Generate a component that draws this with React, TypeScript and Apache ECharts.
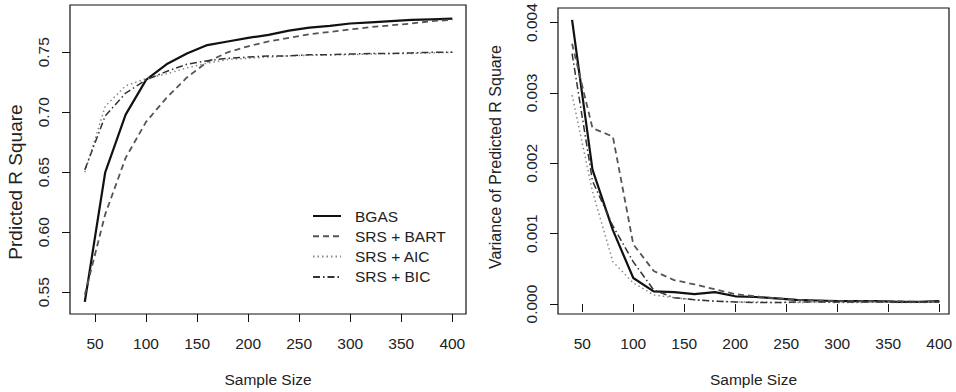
import React, { useEffect, useRef } from "react";
import * as echarts from "echarts";

// ---- data ----
const sampleSizes = [40, 60, 80, 100, 120, 140, 160, 180, 200, 220, 240, 260, 280, 300, 320, 340, 360, 380, 400];
const seriesNames = ["BGAS", "SRS + BART", "SRS + AIC", "SRS + BIC"];

const r2BGAS = [0.542, 0.650, 0.698, 0.727, 0.740, 0.749, 0.756, 0.759, 0.762, 0.7645, 0.768, 0.7705, 0.772, 0.774, 0.775, 0.776, 0.777, 0.7775, 0.778];
const r2BART = [0.548, 0.615, 0.662, 0.692, 0.712, 0.729, 0.742, 0.750, 0.755, 0.759, 0.762, 0.765, 0.767, 0.769, 0.771, 0.7725, 0.774, 0.776, 0.777];
const r2AIC = [0.650, 0.705, 0.722, 0.728, 0.732, 0.737, 0.741, 0.744, 0.745, 0.746, 0.747, 0.7475, 0.748, 0.748, 0.7485, 0.749, 0.749, 0.7495, 0.750];
const r2BIC = [0.652, 0.697, 0.716, 0.727, 0.734, 0.740, 0.743, 0.745, 0.746, 0.747, 0.747, 0.748, 0.748, 0.7485, 0.749, 0.749, 0.7495, 0.750, 0.750];

const varBGAS = [0.00404, 0.00191, 0.00105, 0.00037, 0.00018, 0.00017, 0.00014, 0.00017, 0.00011, 0.0001, 0.00008, 0.00006, 0.00005, 0.00004, 0.00004, 0.00004, 0.00003, 0.00003, 0.00004];
const varBART = [0.0037, 0.0025, 0.00238, 0.00085, 0.00047, 0.00034, 0.00028, 0.00021, 0.00014, 0.00011, 0.00008, 0.00006, 0.00005, 0.00004, 0.00004, 0.00004, 0.00004, 0.00003, 0.00003];
const varAIC = [0.00297, 0.0016, 0.0006, 0.0003, 0.00013, 0.00009, 0.00006, 0.00004, 0.00003, 0.00003, 0.00002, 0.00002, 0.00003, 0.00002, 0.00002, 0.00003, 0.00002, 0.00002, 0.00003];
const varBIC = [0.00356, 0.00175, 0.00111, 0.0006, 0.0002, 0.00009, 0.00006, 0.00004, 0.00003, 0.00002, 0.00002, 0.00003, 0.00003, 0.00003, 0.00003, 0.00003, 0.00003, 0.00003, 0.00003];

const xTicks = [50, 100, 150, 200, 250, 300, 350, 400];
const r2Ticks = [0.55, 0.6, 0.65, 0.7, 0.75];
const varTicks = [0, 0.001, 0.002, 0.003, 0.004];

const xTitle = "Sample Size";
const leftYTitle = "Prdicted R Square";
const rightYTitle = "Variance of Predicted R Square";

// ---- styles ----
const FONT = "Liberation Sans";
const TXT = "#222";
const lineStyles: any[] = [
  { color: "#111", width: 2.2, type: "solid" },
  { color: "#555", width: 1.8, type: [6, 4] },
  { color: "#888", width: 1.5, type: [1.5, 3] },
  { color: "#333", width: 1.5, type: [7, 3, 1.5, 3] },
];

function pairs(ys: number[]) {
  return sampleSizes.map((x, i) => [x, ys[i]]);
}

export default function App() {
  const ref = useRef<HTMLDivElement>(null);
  useEffect(() => {
    document.body.style.margin = "0";
    if (!ref.current) return;
    const chart = echarts.init(ref.current, null, { renderer: "svg" });

    const xAxisBase = (grid: number, min: number, max: number) => ({
      type: "value",
      gridIndex: grid,
      min,
      max,
      axisLine: { show: false },
      splitLine: { show: false },
      axisTick: { show: true, length: 8, lineStyle: { color: "#111", width: 1 }, customValues: xTicks },
      axisLabel: { customValues: xTicks, margin: 21, fontSize: 15.5, color: TXT, fontFamily: FONT },
      name: xTitle,
      nameLocation: "middle",
      nameGap: 57,
      nameTextStyle: { fontSize: 15.5, color: TXT, fontFamily: FONT },
    });

    const r2Sets = [r2BGAS, r2BART, r2AIC, r2BIC];
    const varSets = [varBGAS, varBART, varAIC, varBIC];
    const series: any[] = [];
    r2Sets.forEach((d, i) =>
      series.push({
        type: "line",
        name: seriesNames[i],
        xAxisIndex: 0,
        yAxisIndex: 0,
        data: pairs(d),
        symbol: "none",
        lineStyle: lineStyles[i],
        itemStyle: { color: lineStyles[i].color },
      })
    );
    varSets.forEach((d, i) =>
      series.push({
        type: "line",
        name: seriesNames[i],
        xAxisIndex: 1,
        yAxisIndex: 1,
        data: pairs(d),
        symbol: "none",
        lineStyle: lineStyles[i],
        itemStyle: { color: lineStyles[i].color },
      })
    );

    chart.setOption({
      animation: false,
      backgroundColor: "#fff",
      textStyle: { fontFamily: FONT },
      grid: [
        { left: 70, top: 5, width: 396, height: 309, show: true, borderColor: "#111", borderWidth: 1.2, backgroundColor: "transparent" },
        { left: 558, top: 8, width: 391, height: 307, show: true, borderColor: "#111", borderWidth: 1.2, backgroundColor: "transparent" },
      ],
      xAxis: [xAxisBase(0, 25.5, 413.4), xAxisBase(1, 26.2, 409.5)],
      yAxis: [
        {
          type: "value",
          gridIndex: 0,
          min: 0.5319,
          max: 0.7894,
          axisLine: { show: false },
          splitLine: { show: false },
          axisTick: { show: true, length: 8, lineStyle: { color: "#111" }, customValues: r2Ticks },
          axisLabel: {
            customValues: r2Ticks,
            rotate: 90,
            margin: 19,
            fontSize: 15.5,
            color: TXT,
            fontFamily: FONT,
            formatter: (v: number) => v.toFixed(2),
          },
        },
        {
          type: "value",
          gridIndex: 1,
          min: -0.0001417,
          max: 0.004208,
          axisLine: { show: false },
          splitLine: { show: false },
          axisTick: { show: true, length: 8, lineStyle: { color: "#111" }, customValues: varTicks },
          axisLabel: {
            customValues: varTicks,
            rotate: 90,
            margin: 19,
            fontSize: 15.5,
            color: TXT,
            fontFamily: FONT,
            formatter: (v: number) => v.toFixed(3),
          },
        },
      ],
      legend: {
        data: seriesNames,
        orient: "vertical",
        left: 312,
        top: 208,
        padding: 0,
        itemWidth: 28,
        itemHeight: 14,
        itemGap: 4.3,
        itemStyle: { opacity: 0 },
        textStyle: { fontSize: 15.5, color: TXT, fontFamily: FONT, padding: [0, 0, 0, 9] },
        selectedMode: false,
      },
      graphic: [
        {
          type: "text",
          x: 15,
          y: 182,
          rotation: Math.PI / 2,
          style: { text: leftYTitle, fontSize: 19, fill: TXT, fontFamily: FONT, align: "center", verticalAlign: "middle" },
        },
        {
          type: "text",
          x: 495,
          y: 157,
          rotation: Math.PI / 2,
          style: { text: rightYTitle, fontSize: 16, fill: TXT, fontFamily: FONT, align: "center", verticalAlign: "middle" },
        },
      ],
      series,
    });
    return () => chart.dispose();
  }, []);
  return <div ref={ref} style={{ width: 956, height: 392 }} />;
}
